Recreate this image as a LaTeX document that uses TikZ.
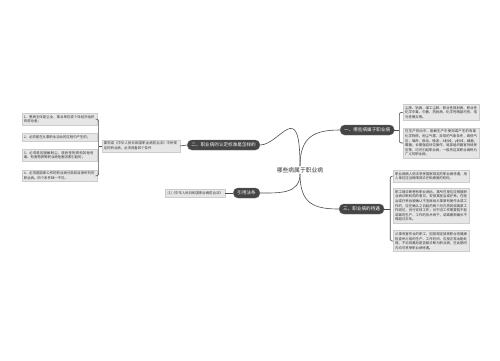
\documentclass[tikz,border=0pt]{standalone}
\usepackage{fontspec}
\newfontfamily\cjkfont{Noto Sans CJK SC}
\XeTeXlinebreaklocale "zh"
\XeTeXlinebreakskip = 0pt plus 1pt
\usetikzlibrary{positioning}
\definecolor{mapText}{HTML}{333333}
\definecolor{mapLine}{HTML}{4D4D4D}
\definecolor{topicFill}{HTML}{454545}
\definecolor{topicBorder}{HTML}{707070}
\definecolor{cellFill}{HTML}{E6E6E6}
\definecolor{cellBorder}{HTML}{CCCCCC}
\newcommand{\cellfont}{\cjkfont\fontsize{3.4}{4.6}\selectfont}
\newcommand{\topicfont}{\cjkfont\fontsize{4.6}{5.2}\selectfont}

\begin{document}
\begin{tikzpicture}[
  x=1pt, y=-1pt,
  maintopic/.style={
    text=mapText,
    inner sep=1pt,
    font=\cjkfont\fontsize{5.8}{6.5}\selectfont
  },
  topic/.style={
    draw=topicBorder,
    fill=topicFill,
    text=white,
    rounded corners=4.5pt,
    minimum height=10pt,
    inner xsep=4pt,
    inner ysep=1.5pt,
    line width=0.4pt,
    font=\topicfont
  },
  cell/.style={
    draw=cellBorder,
    fill=cellFill,
    text=mapText,
    inner sep=2pt,
    line width=0.4pt,
    font=\cellfont
  },
  leafbox/.style={cell, text width=72pt, align=left},
  linkline/.style={draw=mapLine, line width=0.6pt},
  bracket/.style={linkline, rounded corners=2pt}
]
\useasboundingbox[fill=white] (0,0) rectangle (500,360);

\node[maintopic] (root) at (300,170) {哪些病属于职业病};

% Main branches round the central title.
\node[topic, anchor=west] (p1) at (340,130) {一、哪些病属于职业病};
\node[topic, anchor=east] (p2) at (260,145) {二、职业病的认定标准是怎样的};
\node[topic, anchor=west] (p3) at (339,209) {三、职业病的待遇};
\node[topic, anchor=east] (p4) at (260,193) {引用法条};

% Branch one.
\node[leafbox, anchor=north west] (l11) at (403,104)
  {尘肺、铅病、煤工尘肺、职业性放射病、职业性化学中毒、中暑、热射病、化学性眼部灼伤、电光性眼炎等。};
\node[leafbox, below=7pt of l11.south west, anchor=north west] (l12)
  {在生产劳动中，接触生产中使用或产生的有毒化学物质，粉尘气雾，异常的气象条件，高低气压，噪声，振动，微波，X射线，γ射线，细菌，霉菌；长期强迫体位操作，局部组织器官持续受压等，均可引起职业病，一般将这类职业病称为广义的职业病。};

% Branch two.
\node[cell, text width=74pt, align=left, anchor=east] (m2) at (180,146)
  {要构成《中华人民共和国职业病防治法》中所规定的职业病，必须具备四个条件};
\node[leafbox, text width=71pt, anchor=north east] (l21) at (97,113)
  {1、患病主体是企业、事业单位或个体经济组织的劳动者；};
\node[leafbox, text width=71pt, below=8pt of l21.south east, anchor=north east] (l22)
  {2、必须是在从事职业活动的过程中产生的；};
\node[leafbox, text width=71pt, below=8pt of l22.south east, anchor=north east] (l23)
  {3、必须是因接触粉尘、放射性物质和其他有毒、有害物质等职业病危害因素引起的；};
\node[leafbox, text width=71pt, below=8pt of l23.south east, anchor=north east] (l24)
  {4、必须是国家公布的职业病分类和目录所列的职业病。四个条件缺一不可。};

% Branch three.
\node[leafbox, anchor=north west] (l31) at (393,170)
  {职业病病人依法享受国家规定的职业病待遇，用人单位应当保障其诊疗和康复的权利。};
\node[leafbox, below=6pt of l31.south west, anchor=north west] (l32)
  {职工被诊断患有职业病后，其所在单位应根据职业病诊断机构的意见，安排其医治或疗养。在医治或疗养后被确认不宜继续从事原有害作业或工作的，应在确认之日起的两个月内将其调离原工作岗位，另行安排工作；对于因工作需要暂不能调离的生产、工作的技术骨干，调离期限最长不得超过半年。};
\node[leafbox, below=7pt of l32.south west, anchor=north west] (l33)
  {从事有害作业的职工，因按规定接受职业性健康检查所占用的生产、工作时间，应按正常出勤处理，不论其最后是否被诊断为职业病，在此期间内均可享受职业病待遇。};

% Cited law.
\node[cell, anchor=east] (l41) at (225,193) {[1]《中华人民共和国职业病防治法》};

% Curves from the title to each branch.
\draw[linkline] (root.north) .. controls +(0,-30) and +(-25,0) .. (p1.west);
\draw[linkline] (root.north) .. controls +(0,-70) and +(20,0) .. (p2.east);
\draw[linkline] (root.south) .. controls +(0,30) and +(-25,0) .. (p3.west);
\draw[linkline] (root.south) .. controls +(0,20) and +(20,0) .. (p4.east);

% Brackets gathering the leaves.
\coordinate (b1) at ([xshift=5pt]p1.east);
\draw[linkline] (p1.east) -- (b1);
\draw[bracket] (l11.west) -| (b1) |- (l12.west);

\draw[linkline] (p2.west) -- (m2.east);
\coordinate (b2) at ([xshift=-3pt]m2.west);
\draw[linkline] (m2.west) -- (b2);
\draw[bracket] (l21.east) -| (b2) |- (l24.east);

\coordinate (b3) at ([xshift=6pt]p3.east);
\draw[linkline] (p3.east) -- (b3);
\draw[bracket] (l31.west) -| (b3) |- (l33.west);

\draw[linkline] (p4.west) -- (l41.east);

\end{tikzpicture}
\end{document}
